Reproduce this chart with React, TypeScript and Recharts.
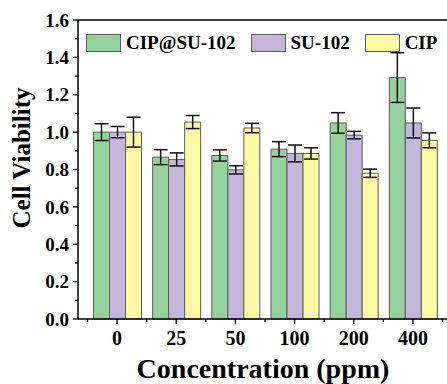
import { ComposedChart, Bar, ErrorBar, XAxis, YAxis, Legend, ReferenceLine } from 'recharts'

const concentrations = ['0', '25', '50', '100', '200', '400']
const cipSuValues = [1.0, 0.866, 0.875, 0.909, 1.049, 1.292]
const cipSuErrors = [0.045, 0.04, 0.03, 0.04, 0.055, 0.133]
const suValues = [1.0, 0.854, 0.798, 0.886, 0.984, 1.049]
const suErrors = [0.03, 0.035, 0.022, 0.045, 0.02, 0.08]
const cipValues = [1.0, 1.054, 1.022, 0.886, 0.78, 0.956]
const cipErrors = [0.08, 0.035, 0.025, 0.03, 0.022, 0.04]
const yTicks = [0, 0.1, 0.2, 0.3, 0.4, 0.5, 0.6, 0.7, 0.8, 0.9, 1.0, 1.1, 1.2, 1.3, 1.4, 1.5, 1.6]
const seriesNames = ['CIP@SU-102', 'SU-102', 'CIP']

const FONT = 'Liberation Serif, Times New Roman, DejaVu Serif, serif'
const COLORS = { green: '#94d39b', purple: '#c5b5da', yellow: '#fcf9a2', edge: '#5c5c5c' }
const seriesColors = [COLORS.green, COLORS.purple, COLORS.yellow]

const data = concentrations.map((c, i) => ({
  conc: c,
  cipSu: cipSuValues[i],
  cipSuErr: cipSuErrors[i],
  su: suValues[i],
  suErr: suErrors[i],
  cip: cipValues[i],
  cipErr: cipErrors[i],
}))

const textStyle = { fontFamily: FONT, fontWeight: 700 }

function YTick({ x, y, payload }: any) {
  const v = payload.value
  const major = Math.round(v * 10) % 2 === 0
  const axisX = x + 9
  return (
    <g>
      <line x1={axisX} x2={axisX - (major ? 5 : 3)} y1={y} y2={y} stroke="#000" strokeWidth={1.3} />
      {major && (
        <text x={x} y={y} dy="0.35em" textAnchor="end" style={textStyle} fontSize={19} fill="#000">
          {v.toFixed(1)}
        </text>
      )}
    </g>
  )
}

function XTick({ x, y, payload, index }: any) {
  const half = payload.offset || 29.6
  const axisY = y - 9
  return (
    <g>
      <line x1={x} x2={x} y1={axisY} y2={axisY + 5} stroke="#000" strokeWidth={1.3} />
      <line x1={x - half} x2={x - half} y1={axisY} y2={axisY + 3} stroke="#000" strokeWidth={1.3} />
      {index === concentrations.length - 1 && (
        <line x1={x + half} x2={x + half} y1={axisY} y2={axisY + 3} stroke="#000" strokeWidth={1.3} />
      )}
      <text x={x} y={y} dy="0.85em" textAnchor="middle" style={textStyle} fontSize={20} fill="#000">
        {payload.value}
      </text>
    </g>
  )
}

function LegendBox() {
  return (
    <div style={{ display: 'flex', alignItems: 'center', fontFamily: FONT, fontWeight: 700, fontSize: 19, color: '#000' }}>
      {seriesNames.map((name, i) => (
        <div key={name} style={{ display: 'flex', alignItems: 'center', marginRight: 15 }}>
          <span style={{ width: 33, height: 16, background: seriesColors[i], border: `1px solid ${COLORS.edge}`, marginRight: 5 }} />
          <span>{name}</span>
        </div>
      ))}
    </div>
  )
}

export default function App() {
  return (
    <div style={{ position: 'absolute', left: 0, top: 0, width: 447, height: 384, overflow: 'hidden', background: '#fff' }}>
      <ComposedChart width={460} height={384} data={data} margin={{ top: 20, right: 8, bottom: 0, left: 0 }} barGap={0}>
        <XAxis
          dataKey="conc"
          height={65}
          padding={{ left: 9.5, right: 9.5 }}
          tickLine={false}
          tickSize={5}
          tickMargin={4}
          tick={<XTick />}
          interval={0}
          axisLine={{ stroke: '#000', strokeWidth: 1.5 }}
          label={(props: any) => {
            const vb = props.viewBox
            return (
              <text x={vb.x + vb.width / 2 - 2} y={378} textAnchor="middle" style={textStyle} fontSize={28} fill="#000">
                Concentration (ppm)
              </text>
            )
          }}
        />
        <YAxis
          width={78}
          domain={[0, 1.6]}
          ticks={yTicks}
          interval={0}
          tickLine={false}
          tickSize={5}
          tickMargin={4}
          tick={<YTick />}
          axisLine={{ stroke: '#000', strokeWidth: 1.5 }}
          label={() => (
            <text x={21} y={158} transform="rotate(-90 21 158)" dy="0.35em" textAnchor="middle" style={textStyle} fontSize={25} fill="#000">
              Cell Viability
            </text>
          )}
        />
        <ReferenceLine y={1.6} stroke="#000" strokeWidth={1.5} />
        <Legend
          verticalAlign="middle"
          align="center"
          layout="horizontal"
          wrapperStyle={{ top: 32, left: 86, width: 'auto' }}
          content={<LegendBox />}
        />
        <Bar dataKey="cipSu" name={seriesNames[0]} fill={COLORS.green} stroke={COLORS.edge} strokeWidth={1} barSize={16} isAnimationActive={false}>
          <ErrorBar dataKey="cipSuErr" width={7} stroke="#111" strokeWidth={1.5} direction="y" />
        </Bar>
        <Bar dataKey="su" name={seriesNames[1]} fill={COLORS.purple} stroke={COLORS.edge} strokeWidth={1} barSize={16} isAnimationActive={false}>
          <ErrorBar dataKey="suErr" width={7} stroke="#111" strokeWidth={1.5} direction="y" />
        </Bar>
        <Bar dataKey="cip" name={seriesNames[2]} fill={COLORS.yellow} stroke={COLORS.edge} strokeWidth={1} barSize={16} isAnimationActive={false}>
          <ErrorBar dataKey="cipErr" width={7} stroke="#111" strokeWidth={1.5} direction="y" />
        </Bar>
      </ComposedChart>
    </div>
  )
}
